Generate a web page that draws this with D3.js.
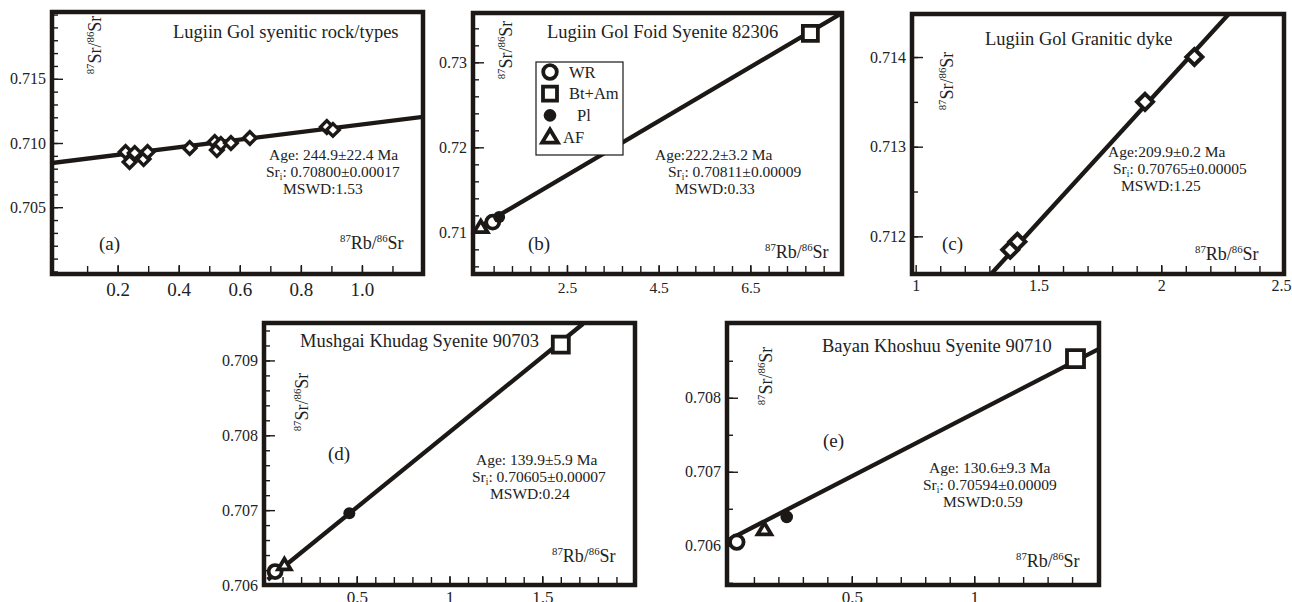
<!DOCTYPE html>
<html>
<head>
<meta charset="utf-8">
<script src="https://cdn.jsdelivr.net/npm/d3@7"></script>
<style>
  body { margin: 0; background: #fff; }
  svg { display: block; }
</style>
</head>
<body>
<svg id="chart" width="1292" height="602"></svg>
<script>
// ---- data ----
// (a) Lugiin Gol syenitic rock types, whole-rock diamonds
const aRb = [0.226, 0.239, 0.256, 0.285, 0.298, 0.436, 0.518, 0.525, 0.538, 0.571, 0.633, 0.885, 0.905];
const aSr = [0.7093, 0.70852, 0.70922, 0.70875, 0.7093, 0.70961, 0.71008, 0.70945, 0.70992, 0.7100, 0.71039, 0.71125, 0.71102];
const aLine = [[-0.015, 0.70844], [1.2, 0.71203]];

// (b) Lugiin Gol foid syenite 82306
const bType = ['AF', 'WR', 'Pl', 'Bt+Am'];
const bRb = [0.62, 0.88, 1.02, 7.81];
const bSr = [0.7106, 0.7112, 0.7118, 0.7334];
const bLine = [[0.54, 0.7105], [8.5, 0.7358]];

// (c) Lugiin Gol granitic dyke
const cRb = [1.385, 1.414, 1.934, 2.135];
const cSr = [0.71185, 0.71194, 0.7135, 0.7140];
const cLine = [[1.307, 0.71158], [2.275, 0.71448]];

// (d) Mushgai Khudag syenite 90703
const dType = ['WR', 'AF', 'Pl', 'Bt+Am'];
const dRb = [0.06, 0.11, 0.46, 1.6];
const dSr = [0.70618, 0.70627, 0.70696, 0.70921];
const dLine = [[0.02, 0.70607], [1.72, 0.70949]];

// (e) Bayan Khoshuu syenite 90710
const eType = ['WR', 'AF', 'Pl', 'Bt+Am'];
const eRb = [0.03, 0.143, 0.234, 1.414];
const eSr = [0.70605, 0.70622, 0.70639, 0.70853];
const eLine = [[-0.01, 0.70607], [1.51, 0.70866]];

const titles = ['Lugiin Gol syenitic rock/types', 'Lugiin Gol Foid Syenite 82306', 'Lugiin Gol Granitic dyke',
  'Mushgai Khudag Syenite 90703', 'Bayan Khoshuu Syenite 90710'];
const ages = ['Age: 244.9±22.4 Ma', 'Age:222.2±3.2  Ma', 'Age:209.9±0.2  Ma', 'Age: 139.9±5.9 Ma', 'Age: 130.6±9.3 Ma'];
const srInit = ['0.70800±0.00017', '0.70811±0.00009', '0.70765±0.00005', '0.70605±0.00007', '0.70594±0.00009'];
const mswd = ['MSWD:1.53', 'MSWD:0.33', 'MSWD:1.25', 'MSWD:0.24', 'MSWD:0.59'];
const legendTypes = ['WR', 'Bt+Am', 'Pl', 'AF'];

// axis tick labels
const aXTicks = [0.2, 0.4, 0.6, 0.8, 1.0], aYTicks = [0.705, 0.710, 0.715];
const bXTicks = [2.5, 4.5, 6.5], bYTicks = [0.71, 0.72, 0.73];
const cXTicks = [1, 1.5, 2, 2.5], cYTicks = [0.712, 0.713, 0.714];
const dXTicks = [0.5, 1, 1.5], dYTicks = [0.706, 0.707, 0.708, 0.709];
const eXTicks = [0.5, 1], eYTicks = [0.706, 0.707, 0.708];

const FONT = '"Liberation Serif", "DejaVu Serif", "Times New Roman", serif';
const svg = d3.select('#chart').attr('font-family', FONT);
const ink = '#1c1816';

function sym(type, s) {
  if (type === 'diamond') return `M0,${-s}L${s},0L0,${s}L${-s},0Z`;
  if (type === 'Bt+Am') return `M${-s},${-s}H${s}V${s}H${-s}Z`;
  if (type === 'AF') return `M0,${-s}L${s * 1.05},${s * 0.75}H${-s * 1.05}Z`;
  return null;
}

function marker(g, type, x, y, opt) {
  if (type === 'WR') {
    g.append('circle').attr('cx', x).attr('cy', y).attr('r', opt.r)
      .attr('fill', '#fff').attr('stroke', ink).attr('stroke-width', 3.8);
  } else if (type === 'Pl') {
    g.append('circle').attr('cx', x).attr('cy', y).attr('r', opt.r - 0.5).attr('fill', ink);
  } else {
    const s = type === 'Bt+Am' ? opt.sq : type === 'AF' ? opt.tri : opt.dia;
    g.append('path').attr('d', sym(type, s)).attr('transform', `translate(${x},${y})`)
      .attr('fill', '#fff').attr('stroke', ink).attr('stroke-width', opt.sw || 3.8)
      .attr('stroke-linejoin', 'miter');
  }
}

function txt(g, x, y, size, s) {
  return g.append('text').attr('x', x).attr('y', y).attr('font-size', size)
    .attr('font-family', FONT).attr('fill', '#222').text(s);
}

function rich(g, x, y, parts, size, opts = {}) {
  const t = txt(g, x, y, size, null);
  if (opts.anchor) t.attr('text-anchor', opts.anchor);
  if (opts.rotate) t.attr('transform', `rotate(-90,${x},${y})`);
  let shift = 0;
  parts.forEach(([s, kind]) => {
    const want = kind === 'sup' ? -0.38 * size : kind === 'sub' ? 0.22 * size : 0;
    t.append('tspan').attr('dy', want - shift)
      .attr('font-size', kind ? size * 0.6 : size).text(s);
    shift = want;
  });
  return t;
}

const srLabel = [['87', 'sup'], ['Sr/', ''], ['86', 'sup'], ['Sr', '']];
const rbLabel = [['87', 'sup'], ['Rb/', ''], ['86', 'sup'], ['Sr', '']];

const panels = [
  { tag: '(a)', box: [52, 12, 423, 274], xd: [-0.015, 1.2], yd: [0.6998, 0.7202],
    xt: aXTicks, xf: d3.format('.1f'), xm: d3.range(0.1, 1.15, 0.1), xs: 19, xpad: 9,
    yt: aYTicks, yf: d3.format('.3f'), ym: d3.range(0.700, 0.7200, 0.001),
    pts: aRb.map((v, i) => ({ type: 'diamond', x: v, y: aSr[i] })), line: aLine,
    opt: { dia: 6.3, sw: 3.4 },
    title: [173, 38], stats: [269, 160, 266, 283], tagPos: [99, 250], rb: [340, 249], sr: [101, 45] },
  { tag: '(b)', box: [473, 13, 842, 274], xd: [0.45, 8.5], yd: [0.7051, 0.7358],
    xt: bXTicks, xf: d3.format('.1f'), xm: d3.range(0.9, 8.5, 0.4), xs: 15.5, xpad: 8,
    yt: bYTicks, yf: d3.format('.2f'), ym: d3.range(0.706, 0.7358, 0.002),
    pts: bType.map((t, i) => ({ type: t, x: bRb[i], y: bSr[i] })), line: bLine,
    opt: { r: 6.5, sq: 7.5, tri: 6.5 },
    title: [547, 38], stats: [655, 160, 668, 675], tagPos: [528, 250], rb: [765, 258], sr: [512, 50] },
  { tag: '(c)', box: [912, 14, 1284, 274], xd: [0.985, 2.5], yd: [0.71158, 0.71448],
    xt: cXTicks, xf: d3.format(''), xm: d3.range(1.1, 2.5, 0.1), xs: 16, xpad: 6,
    yt: cYTicks, yf: d3.format('.3f'), ym: d3.range(0.7120, 0.71448, 0.0005),
    pts: cRb.map((v, i) => ({ type: 'diamond', x: v, y: cSr[i] })), line: cLine,
    opt: { dia: 8, sw: 4 },
    title: [985, 45], stats: [1108, 157, 1113, 1121], tagPos: [942, 250], rb: [1195, 260], sr: [953, 81] },
  { tag: '(d)', box: [264, 323, 635, 585], xd: [0, 2], yd: [0.706, 0.7095],
    xt: dXTicks, xf: d3.format(''), xm: d3.range(0.1, 2, 0.1), xs: 17, xpad: 6,
    yt: dYTicks, yf: d3.format('.3f'), ym: d3.range(0.7062, 0.7095, 0.0002),
    pts: dType.map((t, i) => ({ type: t, x: dRb[i], y: dSr[i] })), line: dLine,
    opt: { r: 6.5, sq: 8, tri: 6 },
    title: [300, 347], stats: [476, 465, 472, 490], tagPos: [328, 460], rb: [552, 562], sr: [308, 402] },
  { tag: '(e)', box: [727, 323, 1099, 585], xd: [-0.01, 1.51], yd: [0.70547, 0.70901],
    xt: eXTicks, xf: d3.format(''), xm: d3.range(0.1, 1.5, 0.1), xs: 17, xpad: 6,
    yt: eYTicks, yf: d3.format('.3f'), ym: d3.range(0.7055, 0.70901, 0.0005),
    pts: eType.map((t, i) => ({ type: t, x: eRb[i], y: eSr[i] })), line: eLine,
    opt: { r: 6.8, sq: 8.5, tri: 6.5 },
    title: [822, 352], stats: [929, 473, 923, 943], tagPos: [823, 447], rb: [1016, 567], sr: [772, 376] }
];

panels.forEach((p, k) => {
  const [x0, y0, x1, y1] = p.box;
  const x = d3.scaleLinear().domain(p.xd).range([x0, x1]);
  const y = d3.scaleLinear().domain(p.yd).range([y1, y0]);
  const g = svg.append('g');

  // minor ticks (inward)
  g.append('g').attr('transform', `translate(0,${y1})`)
    .call(d3.axisBottom(x).tickValues(p.xm).tickSize(-8).tickFormat(''))
    .call(a => a.select('.domain').remove());
  g.append('g').attr('transform', `translate(${x0},0)`)
    .call(d3.axisLeft(y).tickValues(p.ym).tickSize(-6).tickFormat(''))
    .call(a => a.select('.domain').remove());
  // labelled ticks
  const xa = g.append('g').attr('transform', `translate(0,${y1})`)
    .call(d3.axisBottom(x).tickValues(p.xt).tickSize(-9).tickPadding(p.xpad).tickFormat(p.xf))
    .call(a => a.select('.domain').remove())
    .call(a => a.attr('font-family', FONT).selectAll('text').attr('font-size', p.xs).attr('fill', '#222'));
  // last label of (c) sits against the page edge
  if (x1 > 1280) xa.selectAll('text').filter(d => d === p.xt[p.xt.length - 1]).attr('dx', -3);
  g.append('g').attr('transform', `translate(${x0},0)`)
    .call(d3.axisLeft(y).tickValues(p.yt).tickSize(-11).tickPadding(6).tickFormat(p.yf))
    .call(a => a.select('.domain').remove())
    .call(a => a.attr('font-family', FONT).selectAll('text').attr('font-size', 16).attr('fill', '#222'));
  g.selectAll('.tick line').attr('stroke', ink).attr('stroke-width', 1.4);

  // isochron
  const clipId = 'clip' + k;
  svg.append('clipPath').attr('id', clipId).append('rect')
    .attr('x', x0).attr('y', y0).attr('width', x1 - x0).attr('height', y1 - y0);
  g.append('path').datum(p.line)
    .attr('d', d3.line().x(d => x(d[0])).y(d => y(d[1])))
    .attr('clip-path', `url(#${clipId})`)
    .attr('fill', 'none').attr('stroke', ink).attr('stroke-width', 4.3);

  // points
  const mg = g.append('g');
  p.pts.forEach(d => marker(mg, d.type, x(d.x), y(d.y), p.opt));

  // frame
  g.append('rect').attr('x', x0).attr('y', y0).attr('width', x1 - x0).attr('height', y1 - y0)
    .attr('fill', 'none').attr('stroke', ink).attr('stroke-width', 4.5);

  // annotations
  txt(g, p.title[0], p.title[1], 18.5, titles[k]);
  txt(g, p.stats[0], p.stats[1], 15.5, ages[k]);
  rich(g, p.stats[2], p.stats[1] + 17, [['Sr', ''], ['i', 'sub'], [': ' + srInit[k], '']], 15.5);
  txt(g, p.stats[3], p.stats[1] + 34, 15.5, mswd[k]);
  txt(g, p.tagPos[0], p.tagPos[1], 19, p.tag);
  rich(g, p.rb[0], p.rb[1], rbLabel, 18);
  rich(g, p.sr[0], p.sr[1], srLabel, 18, { anchor: 'middle', rotate: true });
});

// legend of panel (b)
const lg = svg.append('g');
lg.append('rect').attr('x', 536).attr('y', 62).attr('width', 87).attr('height', 93)
  .attr('fill', '#fff').attr('stroke', ink).attr('stroke-width', 1.2);
const ly = d3.scalePoint().domain(legendTypes).range([72, 137]);
const lx = { 'WR': 569, 'Bt+Am': 569, 'Pl': 577, 'AF': 563 };
legendTypes.forEach(t => {
  marker(lg, t, 550, ly(t), { r: 6.8, sq: 7, tri: 7.5 });
  txt(lg, lx[t], ly(t) + 5.5, 16.5, t);
});
</script>
</body>
</html>
